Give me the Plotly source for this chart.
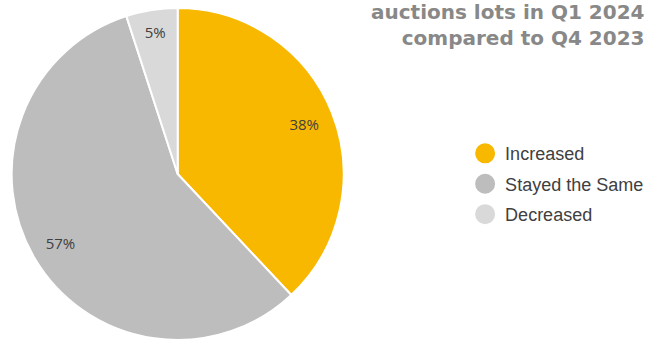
import plotly.graph_objects as go

# Survey response shares
categories = ["Increased", "Stayed the Same", "Decreased"]
shares = [38, 57, 5]
colors = ["#F9B800", "#BDBDBD", "#D9D9D9"]

title_lines = ["auctions lots in Q1 2024", "compared to Q4 2023"]

pie_domain = dict(x=[0, 0.55], y=[0, 1])

fig = go.Figure()

# Filled slices
fig.add_trace(go.Pie(
    labels=categories,
    values=shares,
    sort=False,
    direction="clockwise",
    rotation=0,
    marker=dict(colors=colors, line=dict(color="white", width=2)),
    textinfo="none",
    showlegend=False,
    hoverinfo="label+percent",
    domain=pie_domain,
))

# Transparent ring on top carrying the percentage labels near the rim
fig.add_trace(go.Pie(
    labels=categories,
    values=shares,
    sort=False,
    direction="clockwise",
    rotation=0,
    hole=0.64,
    marker=dict(colors=["rgba(0,0,0,0)"] * len(shares), line=dict(width=0)),
    texttemplate="%{value}%",
    textposition="inside",
    insidetextorientation="horizontal",
    textfont=dict(family="Open Sans, sans-serif", size=15, color="#404040"),
    showlegend=False,
    hoverinfo="skip",
    domain=pie_domain,
))

# Circular legend markers
for name, col in zip(categories, colors):
    fig.add_trace(go.Scatter(
        x=[None], y=[None], mode="markers", name=name, legendgroup=name,
        marker=dict(symbol="circle", size=16, color=col,
                    line=dict(color=col, width=4)),
    ))

fig.add_annotation(
    text="<b>" + "<br>".join(title_lines) + "</b>",
    xref="paper", yref="paper", x=1, y=1.03,
    xanchor="right", yanchor="top", align="right", showarrow=False,
    font=dict(family="DejaVu Sans, sans-serif", size=20, color="#888888"),
)

fig.update_layout(
    width=653, height=340,
    margin=dict(l=0, r=7, t=8, b=0),
    paper_bgcolor="white", plot_bgcolor="white",
    xaxis=dict(visible=False), yaxis=dict(visible=False),
    legend=dict(
        x=0.72, y=0.617, xanchor="left", yanchor="top",
        font=dict(family="Liberation Sans, Arial, sans-serif", size=18,
                  color="#404040"),
        tracegroupgap=4, itemwidth=30,
    ),
)

fig.write_html("out.html")
